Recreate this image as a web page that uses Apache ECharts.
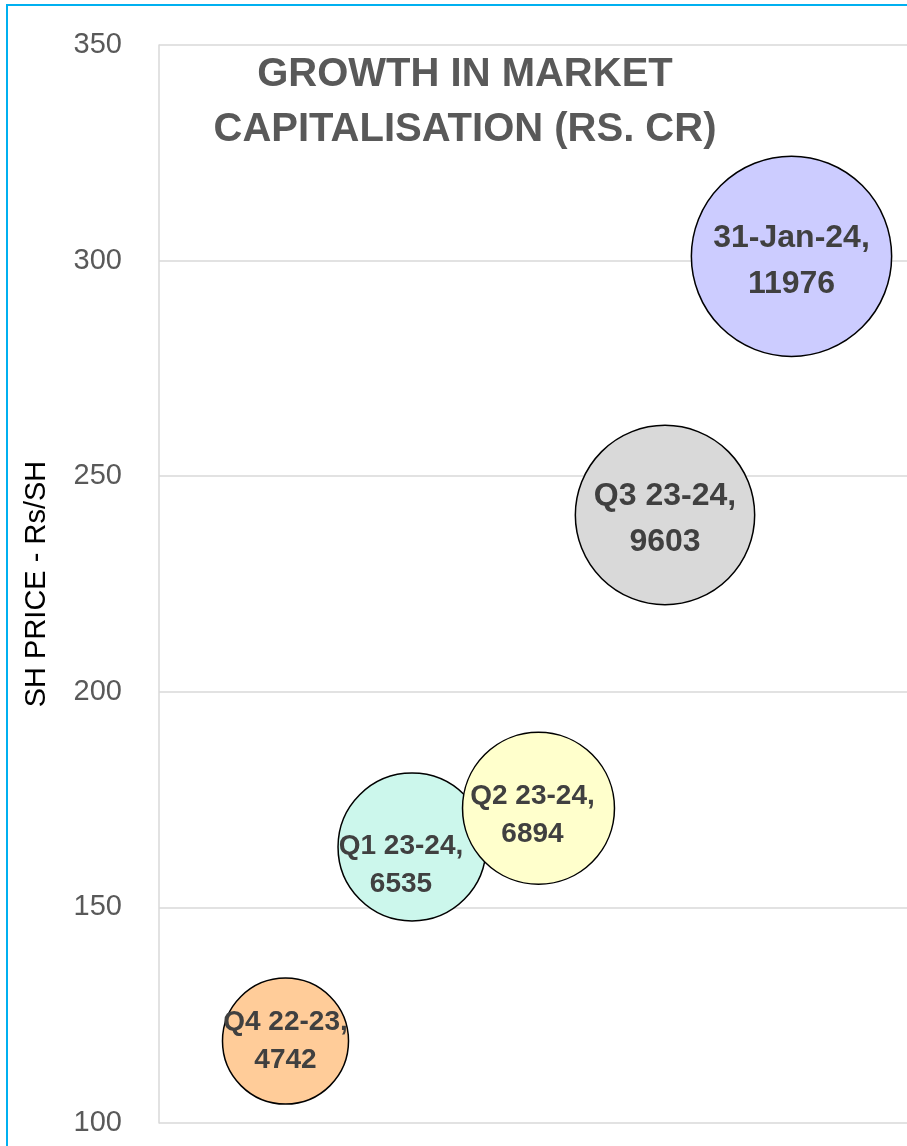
<!DOCTYPE html>
<html>
<head>
<meta charset="utf-8">
<script src="https://cdn.jsdelivr.net/npm/echarts@6/dist/echarts.min.js"></script>
<style>
  html, body { margin: 0; padding: 0; background: #fff; }
  #main { width: 907px; height: 1146px; }
</style>
</head>
<body>
<div id="main"></div>
<script>
// period labels, x slot, share price (Rs/SH), market cap (Rs. Cr)
const periods = ['Q4 22-23', 'Q1 23-24', 'Q2 23-24', 'Q3 23-24', '31-Jan-24'];
const slots = [1, 2, 3, 4, 5];
const prices = [119, 164, 173, 241, 301];
const marketCaps = [4742, 6535, 6894, 9603, 11976];
const yTicks = [100, 350, 50]; // min, max, step

// look of each bubble (fill, label size, label nudge)
const bubbleColors = ['#FFCC99', '#CCF7EC', '#FFFFCC', '#D9D9D9', '#CCCCFF'];
const labelLooks = [
  { fontSize: 28, lineHeight: 38, offset: [0, 0] },
  { fontSize: 28, lineHeight: 38, offset: [-11, 18] },
  { fontSize: 28, lineHeight: 38, offset: [-6, 7] },
  { fontSize: 32, lineHeight: 46, offset: [0, 4] },
  { fontSize: 32, lineHeight: 46, offset: [0, 5] }
];

const chart = echarts.init(document.getElementById('main'));

const data = periods.map((p, i) => ({
  name: p,
  value: [slots[i], prices[i], marketCaps[i]],
  itemStyle: { color: bubbleColors[i] },
  label: labelLooks[i]
}));

chart.setOption({
  animation: false,
  textStyle: { fontFamily: 'Liberation Sans' },
  title: {
    text: 'GROWTH IN MARKET\nCAPITALISATION (RS. CR)',
    left: 465,
    top: 47,
    padding: 0,
    textAlign: 'center',
    textStyle: {
      fontSize: 40,
      fontWeight: 'bold',
      color: '#595959',
      lineHeight: 55,
      fontFamily: 'Liberation Sans'
    }
  },
  graphic: [{
    type: 'rect',
    z: -10,
    shape: { x: 7, y: 5, width: 1000, height: 1300 },
    style: { fill: 'none', stroke: '#00B0F0', lineWidth: 2 }
  }],
  grid: { left: 159, top: 45, bottom: 23, width: 759, outerBoundsMode: 'none' },
  xAxis: {
    type: 'value',
    min: 0,
    max: 6,
    show: false
  },
  yAxis: {
    type: 'value',
    min: yTicks[0],
    max: yTicks[1],
    interval: yTicks[2],
    name: 'SH PRICE - Rs/SH',
    nameLocation: 'middle',
    nameGap: 108,
    nameTextStyle: { fontSize: 29, color: '#000' },
    axisLine: { show: true, lineStyle: { color: '#D9D9D9', width: 1.5 } },
    axisTick: { show: false },
    axisLabel: { fontSize: 29, color: '#595959', margin: 37 },
    splitLine: { lineStyle: { color: '#D9D9D9', width: 1.5 } }
  },
  series: [{
    type: 'scatter',
    data: data,
    symbolSize: v => Math.sqrt(v[2]) * 1.83,
    itemStyle: { borderColor: '#000', borderWidth: 1.5, opacity: 1 },
    label: {
      show: true,
      position: 'inside',
      formatter: p => p.name + ',\n' + p.value[2],
      fontWeight: 'bold',
      color: '#404040'
    }
  }]
});
</script>
</body>
</html>
